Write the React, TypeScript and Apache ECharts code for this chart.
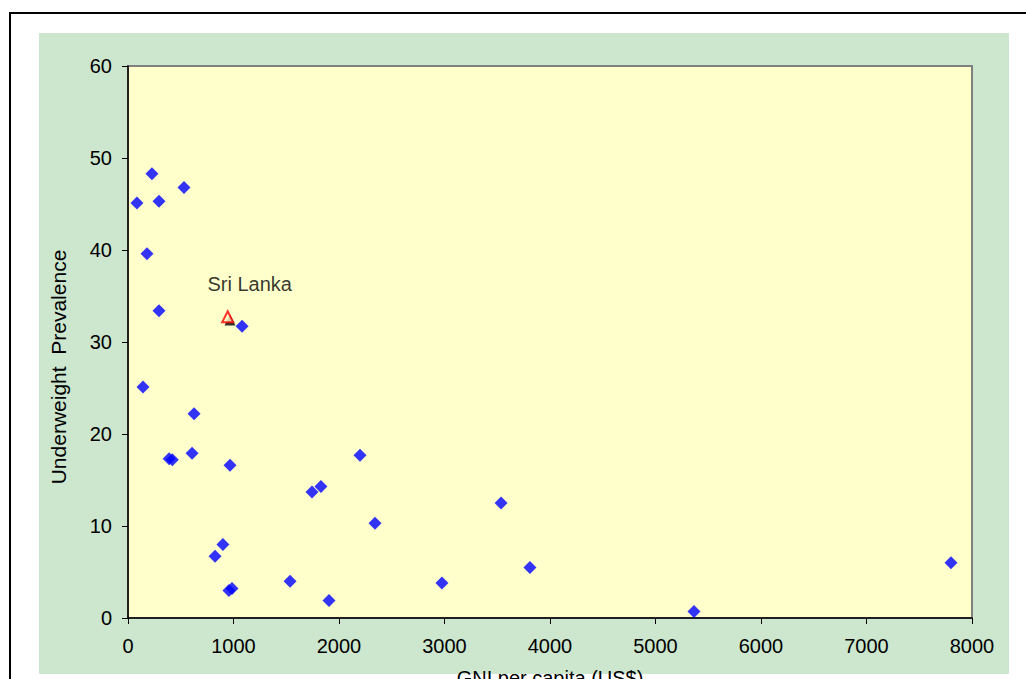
import React, { useEffect, useRef } from "react";
import * as echarts from "echarts";

// GNI per capita (US$) and underweight prevalence (%) by country
const gniPerCapita = [
  85, 227, 294, 531, 180, 294, 142, 626, 390, 420, 607, 967, 1081, 825, 900,
  957, 986, 1536, 1744, 1829, 1905, 2199, 2341, 2976, 3536, 3810, 5365, 7801,
];
const underweight = [
  45.1, 48.3, 45.3, 46.8, 39.6, 33.4, 25.1, 22.2, 17.3, 17.2, 17.9, 16.6, 31.7,
  6.7, 8.0, 3.0, 3.2, 4.0, 13.7, 14.3, 1.9, 17.7, 10.3, 3.8, 12.5, 5.5, 0.7, 6.0,
];

// Highlighted country
const highlightName = "Sri Lanka";
const highlightGni = 945;
const highlightUnderweight = 32.75;
const highlightShadowGni = 967;
const highlightShadowUnderweight = 32.4;

const xTicks = { min: 0, max: 8000, interval: 1000 };
const yTicks = { min: 0, max: 60, interval: 10 };

const FONT = "'Liberation Sans', Arial, sans-serif";
const FS = 20;

export default function App() {
  const ref = useRef<HTMLDivElement>(null);

  useEffect(() => {
    if (!ref.current) return;
    const chart = echarts.init(ref.current, undefined, { renderer: "svg" });
    const points = gniPerCapita.map((g, i) => [g, underweight[i]]);

    chart.setOption({
      animation: false,
      backgroundColor: "#ffffff",
      textStyle: { fontFamily: FONT },
      graphic: [
        {
          type: "rect",
          z: -10,
          shape: { x: 10, y: 13, width: 1040, height: 720 },
          style: { fill: "#ffffff", stroke: "#000000", lineWidth: 2 },
          silent: true,
        },
        {
          type: "rect",
          z: -9,
          shape: { x: 39, y: 33, width: 970, height: 641 },
          style: { fill: "#CCE7CE" },
          silent: true,
        },
        {
          type: "text",
          x: 58,
          y: 367,
          rotation: Math.PI / 2,
          style: {
            text: "Underweight  Prevalence",
            fill: "#000000",
            font: `21px ${FONT}`,
            textAlign: "center",
            textVerticalAlign: "middle",
          },
        },
      ],
      grid: {
        show: true,
        left: 128,
        top: 66,
        right: 54,
        bottom: 61,
        outerBoundsMode: "none",
        containLabel: false,
        backgroundColor: "#FFFFCC",
        borderColor: "#808080",
        borderWidth: 2,
      },
      xAxis: {
        type: "value",
        min: xTicks.min,
        max: xTicks.max,
        interval: xTicks.interval,
        name: "GNI per capita (US$)",
        nameLocation: "middle",
        nameGap: 50,
        nameTextStyle: { color: "#000", fontSize: FS, fontFamily: FONT, verticalAlign: "top" },
        axisLine: { show: true, lineStyle: { color: "#000", width: 1.5 } },
        axisTick: { show: true, length: 6, lineStyle: { color: "#000" } },
        axisLabel: {
          color: "#000",
          fontSize: FS,
          fontFamily: FONT,
          margin: 18,
          formatter: (v: number) => String(v),
        },
        splitLine: { show: false },
      },
      yAxis: {
        type: "value",
        min: yTicks.min,
        max: yTicks.max,
        interval: yTicks.interval,
        axisLine: { show: true, lineStyle: { color: "#000", width: 1.5 } },
        axisTick: { show: true, length: 6, lineStyle: { color: "#000" } },
        axisLabel: { color: "#000", fontSize: FS, fontFamily: FONT, margin: 16 },
        splitLine: { show: false },
      },
      series: [
        {
          type: "scatter",
          symbol: "diamond",
          symbolSize: 13,
          itemStyle: { color: "#0000FF" },
          data: points,
          z: 3,
        },
        {
          type: "scatter",
          symbol: "triangle",
          symbolSize: 11,
          itemStyle: { color: "#000000" },
          data: [[highlightShadowGni, highlightShadowUnderweight]],
          z: 4,
        },
        {
          type: "scatter",
          symbol: "triangle",
          symbolSize: 11,
          itemStyle: { color: "#FFFFCC", borderColor: "#FF0000", borderWidth: 2 },
          data: [{ name: highlightName, value: [highlightGni, highlightUnderweight] }],
          label: {
            show: true,
            position: "top",
            formatter: "{b}",
            color: "#000",
            fontSize: FS,
            fontFamily: FONT,
            offset: [22, -11],
          },
          z: 5,
        },
      ],
    });

    return () => chart.dispose();
  }, []);

  return (
    <div
      ref={ref}
      style={{ position: "fixed", left: 0, top: 0, width: 1026, height: 679 }}
    />
  );
}
